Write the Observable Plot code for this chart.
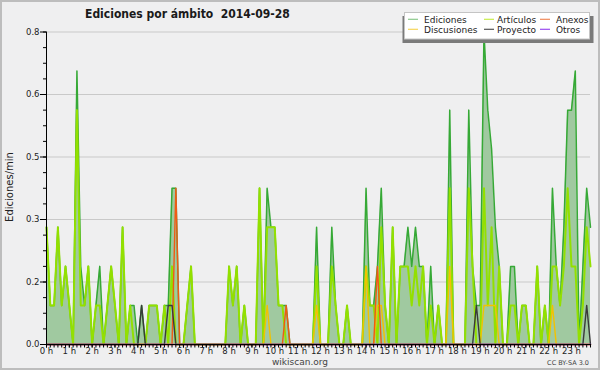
<!DOCTYPE html>
<html><head><meta charset="utf-8">
<script src="https://cdn.jsdelivr.net/npm/d3@7"></script>
<script src="https://cdn.jsdelivr.net/npm/@observablehq/plot@0.6"></script>
<style>
html,body{margin:0;padding:0;background:#efeff0;}
#chart{width:600px;height:370px;}
</style>
</head><body><div id="chart"></div>
<script>
const titleText = "Ediciones por ámbito  2014-09-28";
const yLabelText = "Ediciones/min";
const footerText = "wikiscan.org";
const licenseText = "CC BY-SA 3.0";

const seriesNames = ["Ediciones", "Artículos", "Anexos", "Discusiones", "Proyecto", "Otros"];
const seriesKeys = ["ediciones", "articulos", "anexos", "discusiones", "proyecto", "otros"];
const seriesColors = ["#36a936", "#93e000", "#f05a14", "#f2c200", "#3a3a3a", "#9a3cf0"];
const legendSwatch = ["#8cc98c", "#c8ec4a", "#f0895a", "#f6d55a", "#555555", "#9a4cf0"];

const hourTicks = [0,1,2,3,4,5,6,7,8,9,10,11,12,13,14,15,16,17,18,19,20,21,22,23];
const yTicks = [0, 0.16, 0.32, 0.48, 0.64, 0.8];
const yTickLabels = ["0.0", "0.2", "0.3", "0.5", "0.6", "0.8"];

// one value per 10-minute slot (6 per hour, 24 rows)
const ediciones = [
 0.3,0.1,0.1,0.3,0.1,0.2,
 0.1,0,0.7,0.2,0.1,0.2,
 0,0.1,0.2,0,0.1,0.2,
 0.1,0,0.3,0,0.1,0.1,
 0,0.1,0,0.1,0.1,0.1,
 0,0.1,0.1,0.4,0.4,0,
 0,0.1,0.2,0,0,0,
 0,0,0,0,0,0,
 0.2,0.1,0.2,0,0.1,0,
 0,0,0.4,0,0.4,0.3,
 0.3,0.1,0.1,0.1,0,0,
 0,0,0,0,0,0.3,
 0,0,0,0.3,0.1,0,
 0,0.1,0,0,0,0,
 0.4,0.1,0.1,0.2,0.4,0.1,
 0,0.3,0,0.2,0.2,0.3,
 0.2,0.3,0.2,0.2,0,0.2,
 0,0.1,0,0,0.6,0,
 0,0,0,0.6,0.2,0.1,
 0.1,0.8,0.6,0.5,0.3,0.2,
 0,0,0.2,0.2,0,0.1,
 0.1,0,0,0.2,0,0.1,
 0,0.4,0.2,0.1,0.3,0.6,
 0.6,0.7,0,0.2,0.4,0.3
];
const articulos = [
 0.3,0.1,0.1,0.3,0.1,0.2,
 0.1,0,0.6,0.1,0.1,0.2,
 0,0.1,0.1,0,0.1,0.2,
 0.1,0,0.3,0,0.1,0,
 0,0,0,0.1,0.1,0.1,
 0,0.1,0,0.2,0,0,
 0,0.1,0.2,0,0,0,
 0,0,0,0,0,0,
 0.2,0.1,0.2,0,0.1,0,
 0,0,0.4,0,0.3,0.3,
 0.3,0.1,0.1,0,0,0,
 0,0,0,0,0,0.2,
 0,0,0,0.2,0.1,0,
 0,0.1,0,0,0,0,
 0.2,0.1,0.1,0,0.3,0.1,
 0,0.3,0,0.2,0.2,0.2,
 0.1,0.2,0.1,0.2,0,0.1,
 0,0.1,0,0,0.4,0,
 0,0,0,0.4,0.2,0,
 0,0.4,0.1,0.3,0,0.2,
 0,0,0.1,0.1,0,0.1,
 0.1,0,0,0.2,0,0.1,
 0,0.2,0.2,0.1,0.2,0.4,
 0.2,0.2,0,0.1,0.3,0.2
];
const anexos = [
 0,0,0,0,0,0, 0,0,0,0,0,0, 0,0,0,0,0,0, 0,0,0,0,0,0,
 0,0,0,0,0,0, 0,0,0,0,0.4,0, 0,0,0,0,0,0, 0,0,0,0,0,0,
 0,0,0,0,0,0, 0,0,0,0,0,0, 0,0,0,0.1,0,0, 0,0,0,0,0,0,
 0,0,0,0,0,0, 0,0,0,0,0,0, 0,0,0,0.2,0,0, 0,0,0,0,0,0,
 0,0,0,0,0,0, 0,0,0,0,0,0, 0,0,0,0,0,0, 0,0,0,0,0,0,
 0,0,0,0,0,0, 0,0,0,0,0,0, 0,0,0,0,0,0, 0,0,0,0,0,0
];
const discusiones = [
 0,0,0,0,0,0, 0,0,0,0,0,0, 0,0,0,0,0,0, 0,0,0,0,0,0,
 0,0,0,0,0,0, 0,0,0,0,0,0, 0,0,0,0,0,0, 0,0,0,0,0,0,
 0,0,0,0,0,0, 0,0,0,0,0.1,0, 0,0,0,0,0,0, 0,0,0,0,0,0.1,
 0,0,0,0,0,0, 0,0,0,0,0,0, 0.2,0,0,0.1,0.1,0, 0,0,0,0,0,0,
 0,0,0,0,0,0, 0,0,0,0,0.2,0, 0,0,0,0,0,0, 0,0.1,0.1,0.1,0.1,0,
 0,0,0,0,0,0, 0,0,0,0,0,0, 0,0.1,0,0,0,0, 0,0,0,0,0,0
];
const proyecto = [
 0,0,0,0,0,0, 0,0,0,0,0,0, 0,0,0,0,0,0, 0,0,0,0,0,0,
 0,0.1,0,0,0,0, 0,0,0.1,0.1,0,0, 0,0,0,0,0,0, 0,0,0,0,0,0,
 0,0,0,0,0,0, 0,0,0,0,0,0, 0,0,0,0,0,0, 0,0,0,0,0,0,
 0,0,0,0,0,0, 0,0,0,0,0,0, 0,0,0,0,0,0, 0,0,0,0,0,0,
 0,0,0,0,0,0, 0,0,0,0,0,0, 0,0,0,0,0,0.1, 0,0,0,0,0,0,
 0,0,0,0,0,0, 0,0,0,0,0,0, 0,0,0,0,0,0, 0,0,0,0,0.1,0
];
const otros = [
 0,0,0,0,0,0, 0,0,0,0,0,0, 0,0,0,0,0,0, 0,0,0,0,0,0,
 0,0,0,0,0,0, 0,0,0,0,0,0, 0,0,0,0,0,0, 0,0,0,0,0,0,
 0,0,0,0,0,0, 0,0,0,0,0,0, 0,0,0,0,0,0, 0,0,0,0,0,0,
 0,0,0,0,0,0, 0,0,0,0,0,0, 0,0,0,0,0,0, 0,0,0,0,0,0,
 0,0,0,0,0,0, 0,0,0,0,0,0, 0,0,0,0,0,0, 0,0,0,0,0,0,
 0,0,0,0,0,0, 0,0,0,0,0,0, 0,0,0,0,0,0, 0,0,0,0,0,0
];

const seriesValues = {ediciones, articulos, anexos, discusiones, proyecto, otros};
const slotsPerHour = 6;
const rows = ediciones.map((v, i) => {
  const r = {t: i / slotsPerHour};
  for (const k of seriesKeys) r[k] = seriesValues[k][i];
  return r;
});
const minorX = rows.map(r => r.t);
const minorY = d3.range(0, 0.8001, 0.04);
const lastT = rows[rows.length - 1].t;

const ink = "#222";
const lineOrder = [1, 3, 2, 4, 5];

const plot = Plot.plot({
  width: 600, height: 370,
  marginLeft: 46, marginRight: 10, marginTop: 31.5, marginBottom: 26,
  style: {background: "#efeff0", fontFamily: "DejaVu Sans", fontSize: "8.5px", color: ink},
  x: {domain: [0, lastT], axis: null},
  y: {domain: [0, 0.8], axis: null},
  marks: [
    Plot.gridY(yTicks, {stroke: "#c9c9c9", strokeOpacity: 1}),
    Plot.areaY(rows, {x: "t", y: "ediciones", fill: "#a0c9a0", curve: "linear"}),
    Plot.lineY(rows, {x: "t", y: "ediciones", stroke: seriesColors[0], strokeWidth: 1.5}),
    ...lineOrder.map(k => Plot.lineY(rows, {x: "t", y: seriesKeys[k], stroke: seriesColors[k], strokeWidth: k === 1 ? 2 : 1.4})),
    Plot.axisY(minorY, {tickSize: 3, tickFormat: () => "", label: null, stroke: "#000"}),
    Plot.axisY(yTicks, {tickSize: 6, tickPadding: 1, tickFormat: d => yTickLabels[yTicks.indexOf(d)], label: null, stroke: "#000"}),
    Plot.axisX(minorX, {tickSize: 3.5, tickFormat: () => "", label: null, stroke: "#000"}),
    Plot.axisX(hourTicks, {tickSize: 3.5, tickPadding: 0, tickFormat: d => d + " h", label: null, stroke: "#000"}),
    Plot.ruleY([0], {stroke: "#000"}),
    Plot.ruleX([0], {stroke: "#000"})
  ]
});

const svg = d3.select(plot);
// title
svg.append("text").attr("x", 85).attr("y", 18.3).attr("text-anchor", "start")
  .attr("font-family", "'DejaVu Sans Condensed', 'DejaVu Sans', sans-serif")
  .attr("font-weight", "bold").attr("font-size", "12px").attr("fill", "#1a1a1a")
  .style("white-space", "pre").text(titleText);
// y label
svg.append("text").attr("transform", "translate(13,187) rotate(-90)")
  .attr("text-anchor", "middle").attr("font-size", "10px").attr("fill", "#222")
  .attr("font-family", "DejaVu Sans").text(yLabelText);
// footer
svg.append("text").attr("x", 300).attr("y", 365).attr("text-anchor", "middle")
  .attr("font-size", "9px").attr("fill", "#444").attr("font-family", "DejaVu Sans").text(footerText);
svg.append("text").attr("x", 589).attr("y", 365).attr("text-anchor", "end")
  .attr("font-size", "6.5px").attr("fill", "#444").attr("font-family", "DejaVu Sans").text(licenseText);
// legend
const lg = svg.append("g");
lg.append("rect").attr("x", 402.5).attr("y", 16).attr("width", 191).attr("height", 27).attr("fill", "#7a7a7a");
lg.append("rect").attr("x", 404.5).attr("y", 12.5).attr("width", 185).attr("height", 26.5)
  .attr("fill", "#ffffff").attr("stroke", "#c4c4c4");
const colSw = [408, 484, 540], colTx = [424, 497, 556], rowY = [19.3, 29.3];
seriesNames.forEach((name, k) => {
  const c = k % 3, r = Math.floor(k / 3);
  lg.append("line").attr("x1", colSw[c]).attr("x2", colSw[c] + 10).attr("y1", rowY[r]).attr("y2", rowY[r])
    .attr("stroke", legendSwatch[k]).attr("stroke-width", 1.2);
  lg.append("text").attr("x", colTx[c]).attr("y", rowY[r] + 3.3).attr("text-anchor", "start")
    .attr("font-size", "9px").attr("font-family", "DejaVu Sans").attr("fill", "#222").text(name);
});
// outer frame
svg.append("rect").attr("x", 1).attr("y", 1).attr("width", 598).attr("height", 368)
  .attr("fill", "none").attr("stroke", "#bdbdbd").attr("stroke-width", 2);

document.getElementById("chart").appendChild(plot);
</script>
</body></html>
